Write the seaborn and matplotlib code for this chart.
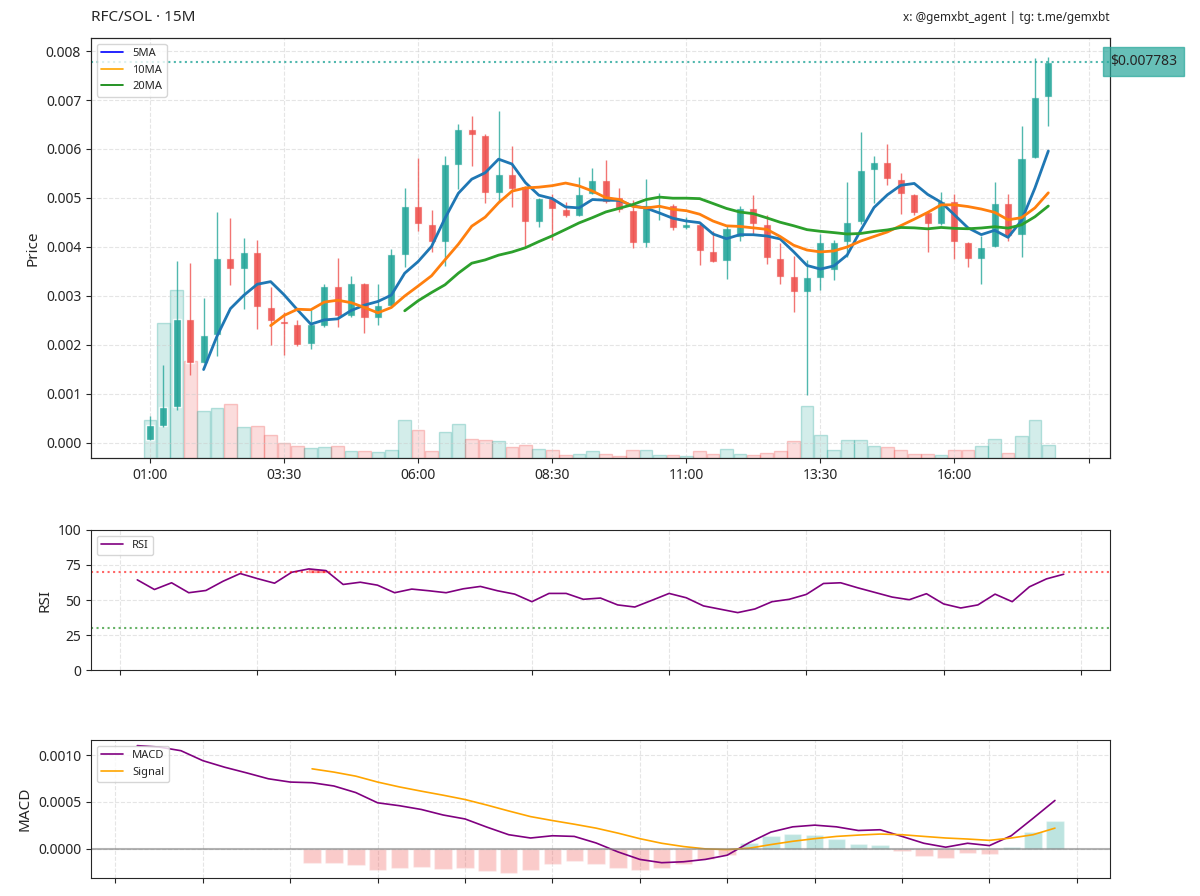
import numpy as np
import pandas as pd
import matplotlib
matplotlib.use("Agg")
import matplotlib.pyplot as plt
from matplotlib.lines import Line2D
from matplotlib.colors import to_rgba
import seaborn as sns

# 15 minute candles, prices in units of 1e-3 SOL
times = pd.date_range("2024-01-01 01:00", periods=68, freq="15min")
opens = [0.06, 0.334, 0.73, 2.536, 1.636, 2.195, 3.763, 3.545, 3.899, 2.774,
         2.488, 2.42, 2.018, 2.386, 3.197, 2.59, 3.27, 2.556, 2.795, 3.83,
         4.833, 4.458, 4.097, 5.67, 6.4, 6.29, 5.11, 5.487, 5.24, 4.506,
         4.99, 4.77, 4.63, 5.09, 5.36, 5.02, 4.75, 4.08, 4.85, 4.85,
         4.38, 4.46, 3.92, 3.71, 4.2, 4.8, 4.46, 3.78, 3.4, 3.08,
         3.37, 3.52, 4.09, 4.5, 5.58, 5.74, 5.39, 5.07, 4.72, 4.46,
         4.94, 4.1, 3.75, 4.0, 4.9, 4.25, 5.82, 7.07]
highs = [0.545, 1.595, 3.708, 3.68, 2.958, 4.717, 4.594, 4.172, 4.131, 3.183,
         2.67, 2.5, 2.7, 3.25, 3.776, 3.4, 3.27, 3.25, 3.95, 5.208,
         5.808, 4.75, 5.862, 6.503, 6.67, 6.3, 6.776, 6.06, 5.24, 4.99,
         5.09, 4.92, 5.43, 5.62, 5.77, 5.21, 4.95, 5.38, 5.1, 4.87,
         4.61, 4.51, 4.32, 4.42, 4.83, 5.06, 4.65, 4.07, 3.82, 3.73,
         4.27, 4.15, 5.33, 6.35, 5.86, 6.11, 5.5, 5.07, 4.74, 5.13,
         5.09, 4.1, 4.23, 5.32, 5.07, 6.46, 7.85, 7.87]
lows = [0.05, 0.32, 0.66, 1.377, 1.62, 1.772, 3.217, 2.74, 2.318, 2.004,
        1.786, 1.98, 1.92, 2.37, 2.365, 2.57, 2.25, 2.41, 2.77, 3.59,
        4.33, 3.9, 3.613, 5.174, 5.658, 4.89, 4.92, 4.81, 4.02, 4.4,
        4.15, 4.6, 4.63, 5.09, 4.9, 4.72, 3.98, 4.0, 4.55, 4.34,
        4.37, 3.63, 3.69, 3.35, 4.12, 4.24, 3.64, 3.25, 2.66, 0.98,
        3.12, 3.33, 3.8, 4.46, 4.89, 5.26, 4.68, 4.65, 3.89, 4.44,
        3.76, 3.59, 3.25, 4.0, 4.12, 3.8, 5.82, 6.46]
closes = [0.354, 0.73, 2.536, 1.636, 2.209, 3.763, 3.545, 3.899, 2.761, 2.481,
          2.42, 2.004, 2.434, 3.197, 2.59, 3.27, 2.556, 2.808, 3.845, 4.833,
          4.458, 4.097, 5.685, 6.4, 6.278, 5.11, 5.487, 5.187, 4.506, 4.99,
          4.765, 4.63, 5.09, 5.36, 4.92, 4.75, 4.08, 4.85, 4.86, 4.38,
          4.47, 3.91, 3.69, 4.38, 4.8, 4.46, 3.78, 3.39, 3.08, 3.39,
          4.09, 4.1, 4.51, 5.58, 5.74, 5.39, 5.07, 4.7, 4.46, 4.94,
          4.1, 3.75, 4.0, 4.9, 4.22, 5.82, 7.07, 7.783]
volumes = [115, 405, 503, 291, 140, 150, 161, 93, 97, 70,
           46, 37, 30, 32, 35, 20, 21, 17, 24, 115,
           85, 21, 78, 101, 56, 53, 52, 33, 40, 28,
           23, 8, 13, 21, 13, 7, 25, 25, 10, 8,
           5, 20, 11, 26, 13, 8, 16, 22, 50, 157,
           70, 25, 53, 53, 35, 33, 25, 13, 12, 10,
           25, 25, 35, 58, 15, 65, 113, 39]

rsi_vals = [64.4, 57.5, 62.3, 55.2, 56.8, 63.4, 68.9, 65.3, 62.0, 69.8,
            72.2, 71.0, 61.1, 62.7, 60.6, 55.2, 57.8, 56.6, 55.2, 58.0,
            59.7, 56.6, 54.2, 48.8, 54.7, 54.7, 50.5, 51.4, 46.5, 45.0,
            49.8, 54.7, 51.6, 45.8, 43.4, 41.0, 43.6, 48.8, 50.5, 54.0,
            61.8, 62.3, 58.7, 55.4, 52.1, 50.2, 54.5, 47.2, 44.3, 46.5,
            54.2, 48.8, 59.4, 65.1, 68.4]

# MACD values in units of 1e-4
macd_vals = [11.0, 10.85, 10.46, 9.4, 8.7, 8.1, 7.47, 7.12, 7.05, 6.7,
             6.0, 4.91, 4.6, 4.2, 3.61, 3.19, 2.32, 1.51, 1.16, 1.40,
             1.33, 0.63, -0.32, -1.12, -1.47, -1.37, -1.12, -0.67, 0.66, 1.79,
             2.35, 2.53, 2.35, 1.96, 2.04, 1.33, 0.60, 0.18, 0.60, 0.35,
             1.40, 3.26, 5.16]
signal_vals = [8.53, 8.18, 7.75, 7.12, 6.6, 6.15, 5.72, 5.26, 4.67, 4.04,
               3.44, 3.02, 2.63, 2.21, 1.68, 1.09, 0.60, 0.25, 0.0, -0.07,
               0.07, 0.46, 0.81, 1.09, 1.33, 1.47, 1.58, 1.51, 1.33, 1.16,
               1.05, 0.91, 1.16, 1.51, 2.21]

UP = "#26a69a"
DOWN = "#ef5350"

sns.set_style("ticks")
plt.rcParams["font.family"] = ["Noto Sans", "DejaVu Sans"]

df = pd.DataFrame({
    "open": np.array(opens) * 1e-3,
    "high": np.array(highs) * 1e-3,
    "low": np.array(lows) * 1e-3,
    "close": np.array(closes) * 1e-3,
    "volume": volumes,
})
df["x"] = np.arange(len(df))
for w in (5, 10, 20):
    df[f"ma{w}"] = df["close"].rolling(w).mean()
up = df["close"] >= df["open"]
colors = np.where(up, UP, DOWN)

fig = plt.figure(figsize=(12, 8.96), dpi=100)
ax = fig.add_axes([0.0758, 0.4888, 0.8492, 0.4688])
ax_rsi = fig.add_axes([0.0758, 0.2522, 0.8492, 0.1563])
ax_macd = fig.add_axes([0.0758, 0.0201, 0.8492, 0.154])

# ---- price panel
axv = ax.twinx()
axv.bar(df["x"], df["volume"], width=0.95,
        color=[to_rgba(c, 0.2) for c in colors],
        edgecolor=[to_rgba(c, 0.3) for c in colors], linewidth=1)
axv.set_ylim(0, df["volume"].max() * 2.5)
axv.set_yticks([])
ax.set_zorder(axv.get_zorder() + 1)
ax.patch.set_visible(False)

ax.vlines(df["x"], df["low"], df["high"], colors=colors, lw=1, alpha=0.8)
ax.bar(df["x"], (df["close"] - df["open"]).abs(),
       bottom=df[["open", "close"]].min(axis=1), width=0.6, color=colors, alpha=0.9)

sns.lineplot(data=df, x="x", y="ma5", ax=ax, color="#1f77b4", lw=2)
sns.lineplot(data=df, x="x", y="ma10", ax=ax, color="#ff7f0e", lw=2)
sns.lineplot(data=df, x="x", y="ma20", ax=ax, color="#2ca02c", lw=2)

last = df["close"].iloc[-1]
ax.axhline(last, color=UP, ls=":", lw=1.5, alpha=0.8)
ax.text(1.0, last, f"${last:.6f}", transform=ax.get_yaxis_transform(),
        ha="left", va="center", fontsize=10,
        bbox=dict(boxstyle="square,pad=0.5", facecolor=UP, alpha=0.7, edgecolor=UP))

handles = [Line2D([], [], color="blue", lw=1.2, label="5MA"),
           Line2D([], [], color="orange", lw=1.2, label="10MA"),
           Line2D([], [], color="green", lw=1.2, label="20MA")]
ax.legend(handles=handles, loc="upper left", fontsize=8, frameon=True)

ax.set_xlim(-4.4, 71.6)
ax.set_ylim(-0.000315, 0.008268)
tick_pos = list(range(0, 71, 10))
ax.set_xticks(tick_pos)
ax.set_xticklabels([times[i].strftime("%H:%M") if i < len(times) else "" for i in tick_pos])
ax.set_xlabel("")
ax.set_ylabel("Price", fontsize=11)
ax.grid(True, ls="--", alpha=0.5)
ax.tick_params(labelsize=10)

# ---- RSI panel
rx = np.arange(len(rsi_vals))
rsi = np.array(rsi_vals)
sns.lineplot(x=rx, y=rsi, ax=ax_rsi, color="purple", lw=1.2, label="RSI")
ax_rsi.axhline(70, color="red", ls=":", lw=1.5, alpha=0.6)
ax_rsi.axhline(30, color="green", ls=":", lw=1.5, alpha=0.6)
ax_rsi.fill_between(rx, rsi, 70, where=rsi >= 70, color="red", alpha=0.3)
ax_rsi.set_ylim(0, 100)
ax_rsi.set_yticks([0, 25, 50, 75, 100])
ax_rsi.set_xticks(range(-1, 56, 8))
ax_rsi.set_xticklabels([])
ax_rsi.set_ylabel("RSI", fontsize=11)
ax_rsi.grid(True, ls="--", alpha=0.5)
ax_rsi.tick_params(labelsize=10)
ax_rsi.legend(loc="upper left", fontsize=8, frameon=True)

# ---- MACD panel
mx = np.arange(len(macd_vals))
macd = np.array(macd_vals) * 1e-4
sig = np.array(signal_vals) * 1e-4
sx = mx[len(macd) - len(sig):]
hist = macd[len(macd) - len(sig):] - sig
ax_macd.bar(sx, hist, width=0.8, color=np.where(hist >= 0, UP, DOWN), alpha=0.3)
sns.lineplot(x=mx, y=macd, ax=ax_macd, color="purple", lw=1.2, label="MACD")
sns.lineplot(x=sx, y=sig, ax=ax_macd, color="orange", lw=1.2, label="Signal")
ax_macd.axhline(0, color="gray", lw=1.5, alpha=0.6)
ax_macd.set_ylim(-0.00031, 0.00116)
ax_macd.set_yticks([0, 0.0005, 0.001])
ax_macd.set_yticklabels(["0.0000", "0.0005", "0.0010"])
ax_macd.set_xticks(range(-1, 45, 4))
ax_macd.set_xticklabels([])
ax_macd.set_ylabel("MACD", fontsize=11)
ax_macd.grid(True, ls="--", alpha=0.5)
ax_macd.tick_params(labelsize=10)
ax_macd.legend(loc="upper left", fontsize=8, frameon=True)

fig.text(0.0758, 0.98, "RFC/SOL · 15M", fontsize=11, ha="left", va="center")
fig.text(0.925, 0.98, "x: @gemxbt_agent | tg: t.me/gemxbt", fontsize=8.5,
         ha="right", va="center")

fig.savefig("out.png", dpi=100)
